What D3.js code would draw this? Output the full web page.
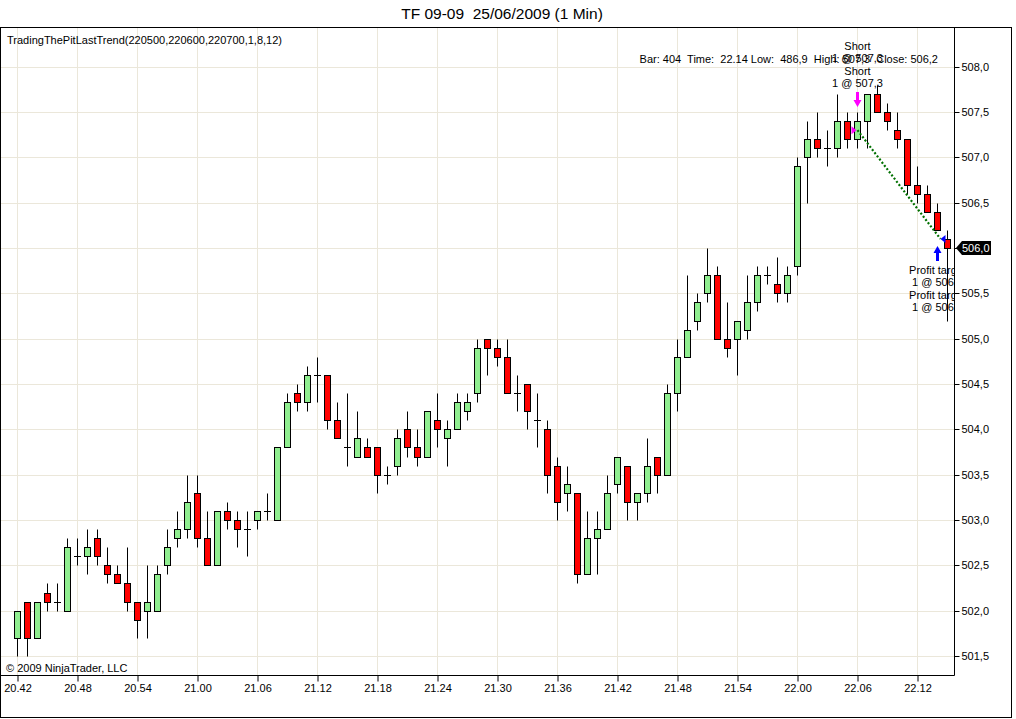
<!DOCTYPE html>
<html>
<head>
<meta charset="utf-8">
<script src="https://cdn.jsdelivr.net/npm/d3@7"></script>
<style>
body { margin: 0; background: #fff; }
svg text { font-family: "Liberation Sans", Arial, sans-serif; white-space: pre; }
</style>
</head>
<body>
<svg id="viz" width="1016" height="719"></svg>
<script>
"use strict";
// 1 minute bars, first bar at 20.42
const opens  = [501.7,502.1,501.7,502.2,502.1,502.0,502.6,502.6,502.8,502.5,502.4,502.3,502.1,502.0,502.0,502.5,502.8,502.9,503.3,502.8,
                502.5,503.1,503.0,502.9,503.0,503.1,503.0,503.8,504.4,504.3,504.6,504.6,504.1,503.8,503.7,503.8,503.8,503.5,503.6,504.0,
                503.8,503.7,504.1,503.9,504.0,504.2,504.4,505.0,504.9,504.8,504.4,504.5,504.1,504.0,503.6,503.3,503.3,502.4,502.8,502.9,
                503.4,503.6,503.2,503.3,503.7,503.5,504.4,504.8,505.2,505.5,505.7,505.0,505.0,505.1,505.4,505.7,505.6,505.5,505.8,507.0,
                507.2,507.1,507.1,507.4,507.2,507.4,507.7,507.5,507.3,507.2,506.7,506.6,506.4,506.1];
const highs  = [502.0,502.1,502.1,502.3,502.3,502.8,502.8,502.9,502.9,502.7,502.5,502.7,502.1,502.5,502.5,502.9,503.1,503.5,503.5,503.1,
                503.1,503.2,503.1,503.1,503.1,503.3,503.8,504.4,504.5,504.7,504.8,504.6,504.3,504.4,504.2,503.9,503.8,503.6,504.0,504.2,
                504.0,504.2,504.4,504.1,504.4,504.4,505.0,505.0,505.0,505.0,504.6,504.5,504.4,504.1,503.7,503.6,503.3,503.1,503.1,503.5,
                503.7,503.6,503.3,503.9,503.7,504.5,505.0,505.7,505.5,506.0,505.8,505.4,505.2,505.7,505.8,505.8,505.9,505.8,507.0,507.4,
                507.5,507.3,507.7,507.5,507.5,507.7,507.8,507.6,507.5,507.2,506.9,506.7,506.5,506.2];
const lows   = [501.5,501.5,501.7,502.0,502.0,502.0,502.5,502.4,502.5,502.3,502.3,502.0,501.7,501.7,502.0,502.4,502.7,502.8,502.7,502.5,
                502.5,502.9,502.7,502.6,502.9,503.0,503.0,503.8,504.2,504.2,504.3,504.0,503.9,503.6,503.7,503.7,503.3,503.4,503.5,503.7,
                503.6,503.7,503.8,503.6,504.0,504.1,504.3,504.6,504.7,504.4,504.2,504.0,503.8,503.3,503.0,503.1,502.3,502.4,502.4,502.9,
                503.3,503.0,503.0,503.2,503.3,503.5,504.2,504.8,505.1,505.4,505.0,504.8,504.6,505.0,505.3,505.6,505.4,505.4,505.7,506.5,
                507.0,506.9,507.0,507.1,507.1,507.1,507.5,507.3,507.1,506.6,506.5,506.4,506.2,505.2];
const closes = [502.0,501.7,502.1,502.1,502.1,502.7,502.6,502.7,502.6,502.4,502.3,502.1,501.9,502.1,502.4,502.7,502.9,503.2,502.8,502.5,
                503.1,503.0,502.9,502.9,503.1,503.1,503.8,504.3,504.3,504.6,504.6,504.1,503.9,503.8,503.9,503.7,503.5,503.5,503.9,503.8,
                503.7,504.2,504.0,504.0,504.3,504.3,504.9,504.9,504.8,504.4,504.4,504.2,504.1,503.5,503.2,503.4,502.4,502.8,502.9,503.3,
                503.7,503.2,503.3,503.6,503.5,504.4,504.8,505.1,505.4,505.7,505.0,504.9,505.2,505.4,505.7,505.7,505.5,505.7,506.9,507.2,
                507.1,507.1,507.4,507.2,507.4,507.7,507.5,507.4,507.2,506.7,506.6,506.4,506.2,506.0];

const xTickLabels = ["20.42","20.48","20.54","21.00","21.06","21.12","21.18","21.24","21.30","21.36","21.42","21.48","21.54","22.00","22.06","22.12"];
const yTickValues = [501.5,502.0,502.5,503.0,503.5,504.0,504.5,505.0,505.5,506.0,506.5,507.0,507.5,508.0];

// trade: short entry bar/price, profit target exit bar/price
const entryBar = 84, entryPrice = 507.3;
const exitBar = 92, exitPrice = 506.1;
const entryLabels = ["Short", "1 @ 507,3", "Short", "1 @ 507,3"];
const exitLabels = ["Profit target", "1 @ 506,1", "Profit target", "1 @ 506,1"];
const lastPrice = 506.0;

const titleText = "TF 09-09  25/06/2009 (1 Min)";
const indicatorText = "TradingThePitLastTrend(220500,220600,220700,1,8,12)";
const infoText = "Bar: 404  Time:  22.14 Low:  486,9  High: 507,3  Close: 506,2";
const copyText = "\u00a9 2009 NinjaTrader, LLC";

let svg = d3.select("#viz"),
    plot = { left: 1, top: 28, right: 954, bottom: 675 };

let xScale = d3.scaleLinear().domain([0, 93]).range([17.5, 947.5]);
let yScale = d3.scaleLinear().domain([501.5, 508.0]).range([656, 66.7]);
let yFmt = (v) => d3.format(".1f")(v).replace(".", ",");

// frame
svg.append("rect")
    .attr("x", 0.5).attr("y", 27.5).attr("width", 1011).attr("height", 690)
    .attr("fill", "#fff").attr("stroke", "#000");

svg.append("text")
    .attr("x", 502).attr("y", 19)
    .attr("text-anchor", "middle")
    .attr("font-size", "15.5px")
    .text(titleText);

svg.append("defs").append("clipPath").attr("id", "clip")
    .append("rect")
    .attr("x", plot.left).attr("y", plot.top)
    .attr("width", plot.right - plot.left).attr("height", plot.bottom - plot.top);

// grid
let grid = svg.append("g").attr("class", "grid");
grid.selectAll(".hg").data(yTickValues).enter().append("line")
    .attr("x1", plot.left).attr("x2", plot.right)
    .attr("y1", (d) => Math.round(yScale(d)) + 0.5).attr("y2", (d) => Math.round(yScale(d)) + 0.5)
    .attr("stroke", "#ebe7da");
grid.selectAll(".vg").data(xTickLabels).enter().append("line")
    .attr("x1", (d, i) => xScale(i * 6)).attr("x2", (d, i) => xScale(i * 6))
    .attr("y1", plot.top).attr("y2", plot.bottom)
    .attr("stroke", "#ebe7da");

// axes
let xAxis = d3.axisBottom(xScale)
    .tickValues(xTickLabels.map((d, i) => i * 6))
    .tickFormat((d) => xTickLabels[d / 6])
    .tickSizeInner(6).tickSizeOuter(0).tickPadding(3);
let gx = svg.append("g")
    .attr("class", "x axis")
    .attr("transform", `translate(0, ${plot.bottom + 0.5})`)
    .call(xAxis);
gx.select(".domain").attr("d", `M${plot.left},0H${plot.right + 0.5}`);

let yAxis = d3.axisRight(yScale)
    .tickValues(yTickValues)
    .tickFormat(yFmt)
    .tickSizeInner(5).tickSizeOuter(0).tickPadding(2);
let gy = svg.append("g")
    .attr("class", "y axis")
    .attr("transform", `translate(${plot.right + 0.5}, 0)`)
    .call(yAxis);
gy.select(".domain").attr("d", `M0,${plot.top}V${plot.bottom + 0.5}`);
gy.selectAll(".tick").attr("transform", (d) => `translate(0, ${Math.round(yScale(d)) + 0.5})`);
svg.selectAll(".axis text").attr("font-family", "Liberation Sans, Arial, sans-serif").attr("font-size", "11px").attr("fill", "#000");
svg.selectAll(".axis line, .axis path").attr("stroke", "#000");

let chart = svg.append("g").attr("clip-path", "url(#clip)");

svg.append("text")
    .attr("x", 7).attr("y", 44)
    .attr("font-size", "11px")
    .text(indicatorText);

chart.append("text")
    .attr("x", 6).attr("y", 672)
    .attr("font-size", "11px")
    .text(copyText);

// candles
let py = (v) => Math.round(yScale(v)) + 0.5;
let candles = chart.selectAll(".candle")
    .data(opens.map((o, i) => ({ i: i, o: o, h: highs[i], l: lows[i], c: closes[i] })))
    .enter().append("g")
    .attr("class", "candle");
candles.append("line")
    .attr("x1", (d) => xScale(d.i)).attr("x2", (d) => xScale(d.i))
    .attr("y1", (d) => py(d.h)).attr("y2", (d) => py(d.l))
    .attr("stroke", "#000");
candles.filter((d) => d.o !== d.c).append("rect")
    .attr("x", (d) => xScale(d.i) - 3)
    .attr("width", 6)
    .attr("y", (d) => py(Math.max(d.o, d.c)))
    .attr("height", (d) => py(Math.min(d.o, d.c)) - py(Math.max(d.o, d.c)))
    .attr("fill", (d) => d.c > d.o ? "#90ee90" : "#ff0000")
    .attr("stroke", "#000");
candles.filter((d) => d.o === d.c).append("line")
    .attr("x1", (d) => xScale(d.i) - 3.5).attr("x2", (d) => xScale(d.i) + 3.5)
    .attr("y1", (d) => py(d.o)).attr("y2", (d) => py(d.o))
    .attr("stroke", "#000");

svg.append("text")
    .attr("x", 938).attr("y", 63)
    .attr("text-anchor", "end")
    .attr("font-size", "11px")
    .text(infoText);

// trade line
let ex = xScale(entryBar), ey = yScale(entryPrice), xx = xScale(exitBar) + 3, xy = yScale(exitPrice);
chart.append("line")
    .attr("x1", ex).attr("y1", ey).attr("x2", xx).attr("y2", xy)
    .attr("stroke", "#007000").attr("stroke-width", 2.2)
    .style("stroke-dasharray", ("2, 2"));

// entry markers
chart.append("path")
    .attr("d", `M${ex - 6},${ey - 4} L${ex - 1},${ey} L${ex - 6},${ey + 4} Z`)
    .attr("fill", "#ff00ff");
chart.append("path")
    .attr("d", `M${ex - 1.5},${92} h3 v8 h2.5 L${ex},${107} L${ex - 4},${100} h2.5 Z`)
    .attr("fill", "#ff00ff");
chart.selectAll(".elab").data(entryLabels).enter().append("text")
    .attr("x", ex).attr("y", (d, i) => 50 + i * 12.3)
    .attr("text-anchor", "middle").attr("font-size", "11px")
    .text((d) => d);

// exit markers
let bx = xScale(exitBar);
chart.append("path")
    .attr("d", `M${xx},${xy} L${xx + 5},${xy - 4} L${xx + 5},${xy + 4} Z`)
    .attr("fill", "#0000ff");
chart.append("path")
    .attr("d", `M${bx - 1.5},${261} v-8 h-2.5 L${bx},${246} L${bx + 4},${253} h-2.5 v8 Z`)
    .attr("fill", "#0000ff");
chart.selectAll(".xlab").data(exitLabels).enter().append("text")
    .attr("x", bx).attr("y", (d, i) => 274 + i * 12.3)
    .attr("text-anchor", "middle").attr("font-size", "11px")
    .text((d) => d);

// last price marker
let ly = yScale(lastPrice);
svg.append("path")
    .attr("d", `M${plot.right + 2},${ly} L${plot.right + 8},${ly - 7} H991 V${ly + 7} H${plot.right + 8} Z`)
    .attr("fill", "#000");
svg.append("text")
    .attr("x", 962).attr("y", ly + 4)
    .attr("font-size", "11px").attr("fill", "#fff")
    .text(yFmt(lastPrice));
</script>
</body>
</html>
